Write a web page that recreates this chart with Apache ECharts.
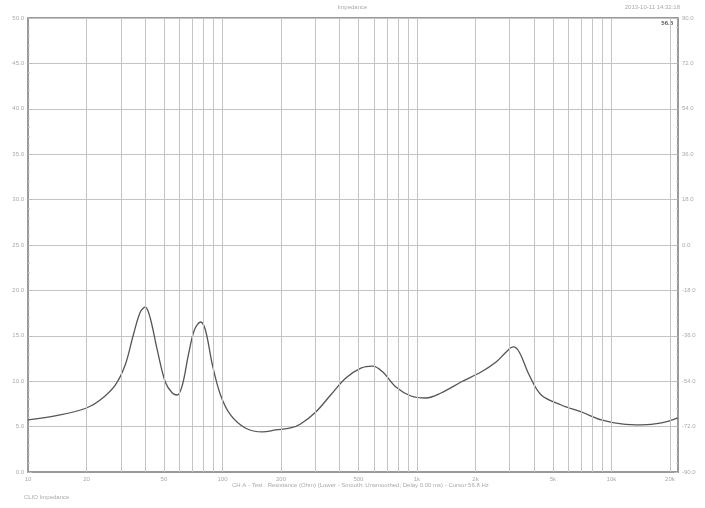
<!DOCTYPE html>
<html><head><meta charset="utf-8">
<script src="https://cdn.jsdelivr.net/npm/echarts@6/dist/echarts.min.js"></script>
<style>html,body{margin:0;padding:0;background:#fff}#c{width:705px;height:508px}</style>
</head><body><div id="c"></div>
<script>
var freqs = [10,14.6,20,23.5,28.1,31.6,34.8,37.8,40.1,42.5,46.2,50.8,55.2,58.6,62.2,66.8,71.7,77.1,81.7,88.8,97.7,110,131,161,188,224,252,302,360,431,515,593,668,780,931,1112,1330,1686,2138,2553,2877,3126,3356,3777,4357,5522,7004,8876,11260,14280,18110,22000];
var ohms = [5.73,6.28,7.05,7.93,9.58,11.78,15.09,17.62,18.17,16.96,13.44,9.91,8.70,8.48,9.58,12.89,15.64,16.52,15.64,11.78,8.48,6.28,4.85,4.41,4.63,4.85,5.29,6.61,8.48,10.35,11.45,11.67,11.01,9.36,8.37,8.15,8.70,9.91,11.01,12.11,13.22,13.77,13.22,10.68,8.48,7.38,6.61,5.73,5.29,5.18,5.40,5.95];
var gridFreqs = [20,30,40,50,60,70,80,90,100,200,300,400,500,600,700,800,900,1000,2000,3000,4000,5000,6000,7000,8000,9000,10000,20000];
var tickFreqs = [10,20,50,100,200,500,1000,2000,5000,10000,20000];
var tickLabels = ['10','20','50','100','200','500','1k','2k','5k','10k','20k'];
var title = 'Impedance';
var dateText = '2013-10-11 14:32:18';
var cursorText = '56.8';
var footText = 'CH A - Test : Resistance (Ohm) (Lower - Smooth: Unsmoothed; Delay 0.00 ms) - Cursor 56.8 Hz';
var brandText = 'CLIO Impedance';

var data = freqs.map(function(f,i){return [f, ohms[i]];});
var ml = gridFreqs.map(function(f){return {xAxis:f, label:{show:false}};});
tickFreqs.forEach(function(f,i){
  ml.push({xAxis:f, lineStyle:{color:'rgba(255,255,255,0)'}, label:{show:true, position:'start', formatter:tickLabels[i], color:'#aaa', fontSize:6, distance:4}});
});
var chart = echarts.init(document.getElementById('c'));
chart.setOption({
  animation:false,
  backgroundColor:'#fff',
  grid:{left:28, right:27, top:18, bottom:36, show:false},
  xAxis:{type:'log', logBase:10, min:10, max:22000,
    axisLine:{show:true, lineStyle:{color:'#999', width:2}},
    axisTick:{show:false}, axisLabel:{show:false}, splitLine:{show:false}},
  yAxis:[{type:'value', min:0, max:50, interval:5, position:'left',
    axisLine:{show:true, lineStyle:{color:'#999', width:2}},
    axisTick:{show:true, inside:true, length:4, lineStyle:{color:'#bbb'}},
    minorTick:{show:true, splitNumber:5, length:2, lineStyle:{color:'#ccc'}},
    axisLabel:{color:'#aaa', fontSize:6, margin:4, formatter:function(v){return v.toFixed(1);}},
    splitLine:{show:true, lineStyle:{color:'#c4c4c4', width:1}}},
   {type:'value', min:-90, max:90, interval:18, position:'right',
    axisLine:{show:true, lineStyle:{color:'#999', width:2}},
    axisTick:{show:true, inside:true, length:4, lineStyle:{color:'#bbb'}},
    minorTick:{show:true, splitNumber:5, length:2, lineStyle:{color:'#ccc'}},
    axisLabel:{color:'#aaa', fontSize:6, margin:4, formatter:function(v){return v.toFixed(1);}},
    splitLine:{show:false}}],
  series:[{type:'line', data:data, smooth:0.35, symbol:'none', yAxisIndex:0,
    lineStyle:{color:'#555', width:1.3},
    markLine:{silent:true, symbol:'none', animation:false,
      lineStyle:{color:'#c4c4c4', width:1, type:'solid'}, data:ml}}],
  graphic:[
    {type:'line', shape:{x1:28,y1:18,x2:678,y2:18}, style:{stroke:'#999', lineWidth:2}},
    {type:'text', left:'center', top:4, style:{text:title, fill:'#aaa', fontSize:6}},
    {type:'text', right:25, top:4, style:{text:dateText, fill:'#aaa', fontSize:6}},
    {type:'text', right:32, top:20, style:{text:cursorText, fill:'#555', fontSize:6, fontWeight:'bold'}},
    {type:'text', left:232, top:482, style:{text:footText, fill:'#aaa', fontSize:6}},
    {type:'text', left:24, top:494, style:{text:brandText, fill:'#aaa', fontSize:6}}
  ]
});
</script></body></html>
